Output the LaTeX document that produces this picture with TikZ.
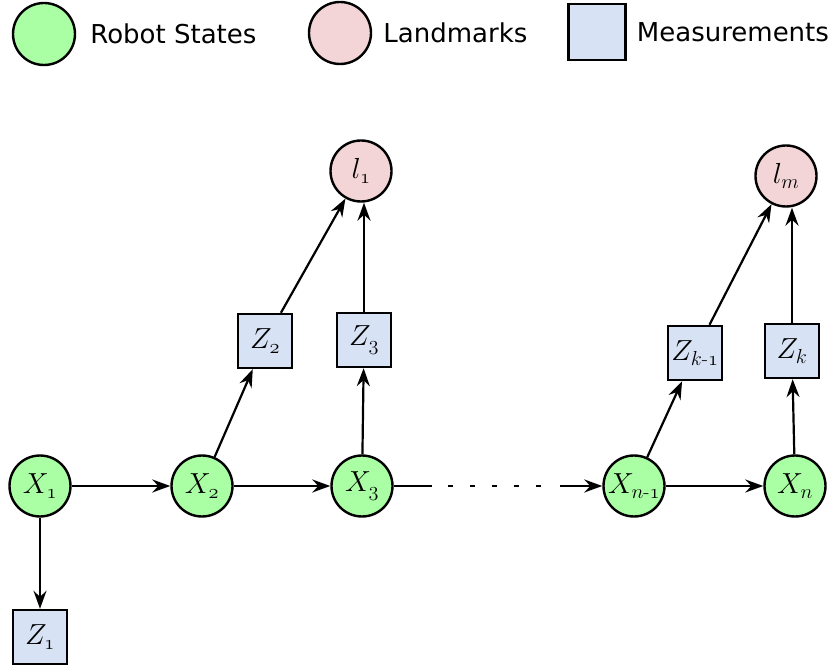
\documentclass[tikz,border=0pt]{standalone}
\usepackage{amsmath}
\usepackage{fontspec}
\newfontfamily\legendfont{DejaVu Sans}
\usepackage{tikz}
\usetikzlibrary{arrows.meta,positioning}
% math fonts at any size
\DeclareFontShape{OML}{cmm}{m}{it}{<->cmmi12}{}
\DeclareFontShape{OMS}{cmsy}{m}{n}{<->cmsy10}{}
\definecolor{statefill}{RGB}{170,255,165}
\definecolor{lmfill}{RGB}{243,213,215}
\definecolor{measfill}{RGB}{215,226,244}
% old style digits from the math italic font
\newcommand{\osn}[1]{\mathchar"013#1}

\begin{document}
\begin{tikzpicture}[x=1pt,y=-1pt]

\tikzset{
state/.style={
    circle,
    draw,
    line width=2.4pt,
    fill=statefill,
    minimum size=61pt,
    inner sep=0pt,
    font=\fontsize{29}{34}\selectfont
},
landmark/.style={
    state,
    fill=lmfill
},
meas/.style={
    rectangle,
    draw,
    line width=2.4pt,
    fill=measfill,
    minimum size=54pt,
    inner sep=0pt,
    font=\fontsize{29}{34}\selectfont
},
legtext/.style={
    inner sep=0pt,
    font=\legendfont\fontsize{26}{30}\selectfont
},
arr/.style={-{Stealth[length=18pt,width=13pt,inset=6pt]},line width=2.2pt},
plain/.style={line width=2.2pt},
dotline/.style={line width=2.2pt,dash pattern=on 5pt off 17pt}
}

\useasboundingbox (0,0) rectangle (833,668);

% legend
\node[state, minimum size=62pt] (legstate) at (44,34) {};
\node[legtext, right=14pt of legstate] (legstatetxt) {Robot States};
\node[landmark, minimum size=62pt] (legland) at (340,33) {};
\node[legtext, right=11pt of legland] (leglandtxt) {Landmarks};
\node[meas, minimum width=57pt, minimum height=56pt] (legmeas) at (597,32) {};
\node[legtext, right=10pt of legmeas] (legmeastxt) {Measurements};

% robot poses
\node[state] (x1) at (40,486) {$X_{\osn1}$};
\node[state] (x2) at (202,486) {$X_{\osn2}$};
\node[state] (x3) at (362,486) {$X_{\osn3}$};
\node[state] (xn1) at (634,486) {$X_{n\text{-}\osn1}$};
\node[state] (xn) at (795,486) {$X_n$};

% measurements
\node[meas] (z1) at (40,637) {$Z_{\osn1}$};
\node[meas] (z2) at (265,341) {$Z_{\osn2}$};
\node[meas] (z3) at (364,340) {$Z_{\osn3}$};
\node[meas] (zk1) at (695,353) {$Z_{k\text{-}\osn1}$};
\node[meas] (zk) at (792,351) {$Z_k$};

% landmarks
\node[landmark] (l1) at (361,171) {$l_{\osn1}$};
\node[landmark] (lm) at (786,176) {$l_m$};

% gap in the chain
\coordinate (gapa) at (432,486);
\coordinate (gapb) at (448,486);
\coordinate (gapc) at (541,486);
\coordinate (gapd) at (560,486);

\draw[arr] (x1) -- (x2);
\draw[arr] (x2) -- (x3);
\draw[plain] (x3) -- (gapa);
\draw[dotline] (gapb) -- (gapc);
\draw[arr] (gapd) -- (xn1);
\draw[arr] (xn1) -- (xn);

\draw[arr] (x1) -- (z1);
\draw[arr] (x2) -- (z2);
\draw[arr] (x3) -- (z3);
\draw[arr] (xn1) -- (zk1);
\draw[arr] (xn) -- (zk);

\draw[arr] (z2) -- (l1);
\draw[arr] (z3) -- (z3 |- l1.south);
\draw[arr] (zk1) -- (lm);
\draw[arr] (zk) -- (zk |- lm.south);

\end{tikzpicture}
\end{document}
